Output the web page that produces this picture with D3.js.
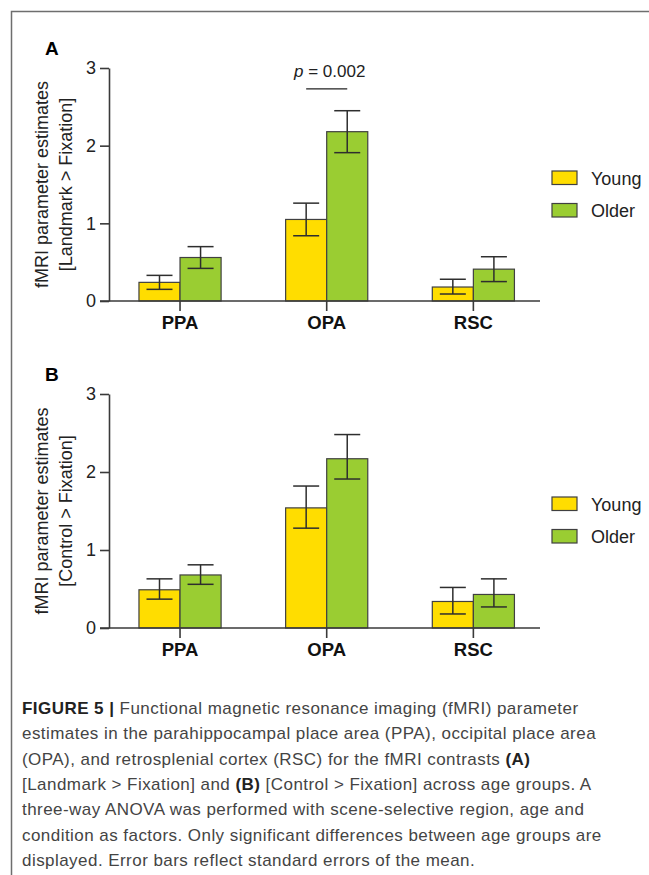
<!DOCTYPE html>
<html>
<head>
<meta charset="utf-8">
<script src="https://cdn.jsdelivr.net/npm/d3@7"></script>
<style>
  html, body { margin: 0; padding: 0; background: #fff; }
  svg { display: block; }
</style>
</head>
<body>
<div id="vis"></div>
<script>
// Grouped bar chart, two panels (A: Landmark > Fixation, B: Control > Fixation).
// Bars = mean parameter estimate, whiskers = +/- SEM.

const REGIONS = ["PPA", "OPA", "RSC"];
const GROUPS  = ["Young", "Older"];
const COLORS  = ["#ffdd00", "#9acd32"];
const Y_TICKS = [0, 1, 2, 3];

// Panel A: [Landmark > Fixation]
const A_YOUNG_MEAN  = [0.24, 1.05, 0.18];
const A_YOUNG_HI    = [0.33, 1.26, 0.28];
const A_YOUNG_LO    = [0.15, 0.84, 0.09];
const A_OLDER_MEAN  = [0.56, 2.18, 0.41];
const A_OLDER_HI    = [0.70, 2.45, 0.57];
const A_OLDER_LO    = [0.42, 1.91, 0.25];

// Panel B: [Control > Fixation]
const B_YOUNG_MEAN  = [0.49, 1.54, 0.34];
const B_YOUNG_HI    = [0.63, 1.82, 0.52];
const B_YOUNG_LO    = [0.37, 1.28, 0.18];
const B_OLDER_MEAN  = [0.68, 2.17, 0.43];
const B_OLDER_HI    = [0.81, 2.48, 0.63];
const B_OLDER_LO    = [0.56, 1.91, 0.27];

// significance bracket in panel A (OPA)
const SIG_REGION = "OPA";
const SIG_LEVEL  = 2.73;
const SIG_LABEL  = "0.002";

const CAPTION = [
  [["FIGURE 5 | ", true], ["Functional magnetic resonance imaging (fMRI) parameter", false]],
  [["estimates in the parahippocampal place area (PPA), occipital place area", false]],
  [["(OPA), and retrosplenial cortex (RSC) for the fMRI contrasts ", false], ["(A)", true]],
  [["[Landmark > Fixation] and ", false], ["(B)", true], [" [Control > Fixation] across age groups. A", false]],
  [["three-way ANOVA was performed with scene-selective region, age and", false]],
  [["condition as factors. Only significant differences between age groups are", false]],
  [["displayed. Error bars reflect standard errors of the mean.", false]],
];

const PANELS = [
  { letter: "A", title: "[Landmark > Fixation]", top: 68, bottom: 301,
    series: [
      { mean: A_YOUNG_MEAN, hi: A_YOUNG_HI, lo: A_YOUNG_LO },
      { mean: A_OLDER_MEAN, hi: A_OLDER_HI, lo: A_OLDER_LO },
    ], sig: true },
  { letter: "B", title: "[Control > Fixation]", top: 394, bottom: 628,
    series: [
      { mean: B_YOUNG_MEAN, hi: B_YOUNG_HI, lo: B_YOUNG_LO },
      { mean: B_OLDER_MEAN, hi: B_OLDER_HI, lo: B_OLDER_LO },
    ], sig: false },
];

const W = 649, H = 875;
const FONT = "'Liberation Sans', Arial, Helvetica, sans-serif";
const AXIS = "#3a3a3a";

const svg = d3.select("#vis").append("svg").attr("width", W).attr("height", H)
  .style("font-family", FONT);

// frame (left + top rule)
svg.append("path")
  .attr("d", `M11.5,${H} V11.5 H${W}`)
  .attr("fill", "none").attr("stroke", "#6e6e6e").attr("stroke-width", 1.5);

const x0 = d3.scaleBand().domain(REGIONS).range([106.7, 546.7])
  .paddingInner(0.44).paddingOuter(0.22);
const x1 = d3.scaleBand().domain(GROUPS).range([0, x0.bandwidth()]);

const AXIS_X = 109;

PANELS.forEach(p => {
  const y = d3.scaleLinear().domain([0, 3]).range([p.bottom, p.top]);
  const g = svg.append("g");

  // panel letter
  g.append("text").attr("x", 45).attr("y", p.top - 13)
    .style("font-size", "19px").style("font-weight", "bold").text(p.letter);

  // y axis
  g.append("g")
    .attr("transform", `translate(${AXIS_X},0)`)
    .call(d3.axisLeft(y).tickValues(Y_TICKS).tickFormat(d3.format("d"))
      .tickSize(9).tickSizeOuter(0).tickPadding(4))
    .call(ax => ax.select(".domain").attr("stroke", AXIS).attr("stroke-width", 1.6))
    .call(ax => ax.selectAll(".tick line").attr("stroke", AXIS).attr("stroke-width", 1.6))
    .call(ax => ax.selectAll("text").style("font-size", "18px").style("font-family", FONT).attr("fill", "#222"));

  // y title, two lines
  const midY = (p.top + p.bottom) / 2;
  [["fMRI parameter estimates", 47.5], [p.title, 72]].forEach(([t, bx]) => {
    g.append("text")
      .attr("transform", `translate(${bx},${midY}) rotate(-90)`)
      .attr("text-anchor", "middle")
      .style("font-size", "18px").attr("fill", "#222").text(t);
  });

  // bars
  p.series.forEach((s, gi) => {
    REGIONS.forEach((r, ri) => {
      const bx = x0(r) + x1(GROUPS[gi]);
      const cx = bx + x1.bandwidth() / 2;
      g.append("rect")
        .attr("x", bx).attr("y", y(s.mean[ri]))
        .attr("width", x1.bandwidth()).attr("height", y(0) - y(s.mean[ri]))
        .attr("fill", COLORS[gi]).attr("stroke", "#404040").attr("stroke-width", 1.2);

      const cap = 13;
      const eg = g.append("g").attr("stroke", "#2e2e2e").attr("stroke-width", 1.5);
      eg.append("line").attr("x1", cx).attr("x2", cx)
        .attr("y1", y(s.hi[ri])).attr("y2", y(s.lo[ri]));
      [s.hi[ri], s.lo[ri]].forEach(v => {
        eg.append("line").attr("x1", cx - cap).attr("x2", cx + cap)
          .attr("y1", y(v)).attr("y2", y(v));
      });
    });
  });

  // x axis
  g.append("line").attr("x1", 100).attr("x2", 540)
    .attr("y1", y(0)).attr("y2", y(0))
    .attr("stroke", AXIS).attr("stroke-width", 1.6);
  REGIONS.forEach(r => {
    const cx = x0(r) + x0.bandwidth() / 2;
    g.append("line").attr("x1", cx).attr("x2", cx)
      .attr("y1", y(0)).attr("y2", y(0) + 10)
      .attr("stroke", AXIS).attr("stroke-width", 1.6);
    g.append("text").attr("x", cx).attr("y", y(0) + 28)
      .attr("text-anchor", "middle")
      .style("font-size", "18.5px").style("font-weight", "bold").attr("fill", "#111")
      .text(r);
  });

  // significance
  if (p.sig) {
    const xa = x0(SIG_REGION) + x1(GROUPS[0]) + x1.bandwidth() / 2;
    const xb = x0(SIG_REGION) + x1(GROUPS[1]) + x1.bandwidth() / 2;
    g.append("line").attr("x1", xa).attr("x2", xb)
      .attr("y1", y(SIG_LEVEL)).attr("y2", y(SIG_LEVEL))
      .attr("stroke", "#222").attr("stroke-width", 1.3);
    const t = g.append("text").attr("x", (xa + xb) / 2 + 3).attr("y", y(SIG_LEVEL) - 12)
      .attr("text-anchor", "middle").style("font-size", "17px").attr("fill", "#222");
    t.append("tspan").style("font-style", "italic").text("p");
    t.append("tspan").text(" = " + SIG_LABEL);
  }

  // legend
  GROUPS.forEach((grp, gi) => {
    const ly = p.top + 110 + gi * 32.5;
    g.append("rect").attr("x", 552).attr("y", ly - 7)
      .attr("width", 25).attr("height", 13.5)
      .attr("fill", COLORS[gi]).attr("stroke", "#404040").attr("stroke-width", 1.2);
    g.append("text").attr("x", 591).attr("y", ly + 6.5)
      .style("font-size", "18px").attr("fill", "#222").text(grp);
  });
});

// caption
const cap = svg.append("g").style("font-size", "17px").style("letter-spacing", "0.45px")
  .attr("fill", "#333");
CAPTION.forEach((line, i) => {
  const t = cap.append("text").attr("x", 22).attr("y", 714 + i * 25.3);
  line.forEach(([s, bold]) => {
    t.append("tspan").style("font-weight", bold ? "bold" : "normal")
      .attr("fill", bold ? "#222" : "#444").text(s);
  });
});
</script>
</body>
</html>
